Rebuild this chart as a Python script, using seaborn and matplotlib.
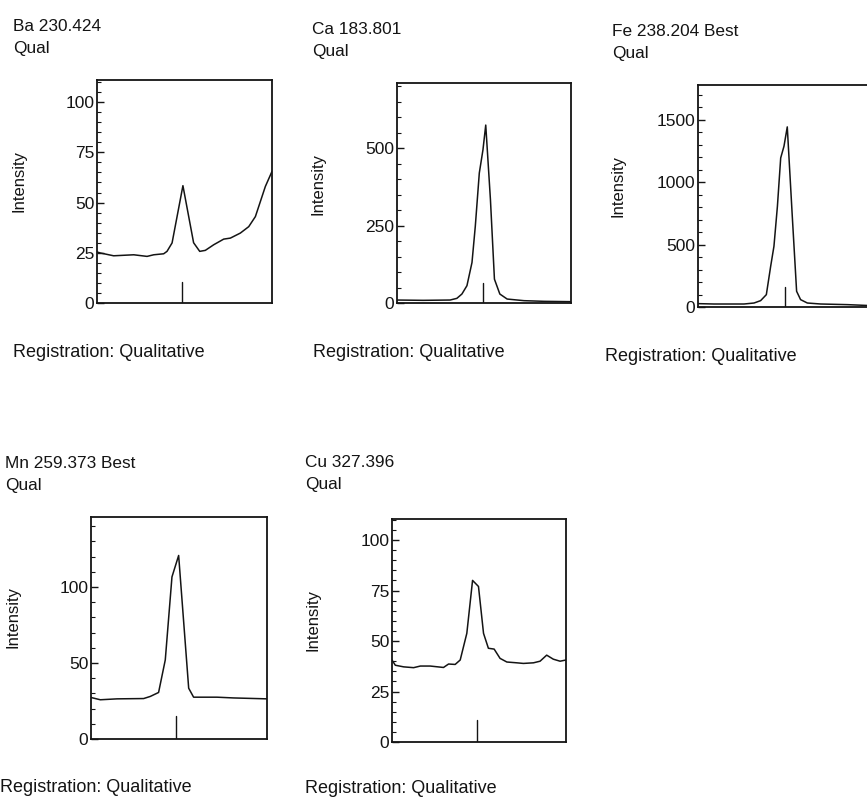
import matplotlib
matplotlib.use("Agg")
import matplotlib.pyplot as plt
from matplotlib.ticker import MultipleLocator
import seaborn as sns

# scan position is given in % of the scan window (x axis is unlabelled)
ba_x = [0, 1.9, 9.5, 21.0, 28.6, 32.4, 38.1, 40.0, 42.9, 49.1, 55.2, 58.7, 61.9,
        66.7, 72.4, 76.2, 81.9, 86.7, 90.5, 96.2, 100]
ba_y = [25.4, 24.9, 23.5, 24.0, 23.2, 24.0, 24.5, 25.7, 29.9, 58.4, 30.0, 25.7, 26.2,
        29.0, 31.8, 32.3, 34.8, 38.0, 43.0, 58.0, 65.5]

ca_x = [0, 15.1, 30.5, 34.4, 37.3, 40.2, 43.1, 45.0, 47.3, 49.4, 51.0, 53.7, 56.0,
        59.1, 63.3, 73.0, 84.6, 100]
ca_y = [9.6, 8.6, 9.6, 15, 29, 56, 131, 248, 420, 495, 575, 334, 77,
        29, 12.8, 7.5, 5.4, 4.3]

fe_x = [0, 9.2, 26.6, 32.4, 36.2, 39.5, 42.0, 43.9, 45.9, 47.8, 49.7, 51.6, 54.5,
        57.0, 59.3, 63.2, 70.9, 86.3, 100]
fe_y = [27, 24, 24, 32, 51, 99, 326, 487, 807, 1195, 1289, 1444, 727,
        126, 59, 32, 24, 19, 11]

mn_x = [0, 5.3, 14.8, 29.9, 33.7, 38.4, 42.2, 46.0, 49.8, 55.5, 58.3, 71.6, 81.1, 100]
mn_y = [27.3, 25.8, 26.4, 26.6, 28.0, 30.6, 52.0, 106.6, 120.7, 33.4, 27.5, 27.5, 27.0, 26.4]

cu_x = [0, 1.9, 6.7, 12.4, 16.3, 22.0, 29.6, 32.5, 36.3, 39.2, 43.0, 46.3, 49.7,
        52.6, 55.4, 58.7, 62.1, 66.0, 71.7, 75.5, 81.3, 85.1, 88.9, 92.7, 96.6, 100]
cu_y = [40.6, 38.0, 37.2, 36.8, 37.6, 37.6, 36.9, 38.6, 38.4, 40.6, 53.8, 80.0, 77.0,
        53.8, 46.4, 46.0, 41.4, 39.6, 39.2, 38.9, 39.2, 40.0, 43.0, 41.0, 40.0, 40.6]

# line position marker for each element
ba_line, ca_line, fe_line, mn_line, cu_line = 48.6, 49.4, 50.3, 48.3, 48.8

titles = ["Ba 230.424", "Ca 183.801", "Fe 238.204 Best", "Mn 259.373 Best", "Cu 327.396"]

sns.set_theme(style="ticks")
plt.rcParams['font.family'] = ['Liberation Sans', 'DejaVu Sans']

W, H = 867, 798
fig = plt.figure(figsize=(W / 100, H / 100), dpi=100)
ink = '#141414'


def fx(px):
    return px / W


def fy(py):
    return 1 - py / H


# title, x, y, marker, ylim top, major, minor, marker height,
# axes box (L, T, R, B), title (x, baseline), registration (x, baseline), ylabel centre
panels = [
    (titles[0], ba_x, ba_y, ba_line, 111, 25, 5, 0.093, (97, 80, 272, 303), (13, 31), (13, 357), (19, 181)),
    (titles[1], ca_x, ca_y, ca_line, 711, 250, 50, 0.089, (397, 83, 571, 303), (312, 34), (313, 357), (318, 184)),
    (titles[2], fe_x, fe_y, fe_line, 1780, 500, 100, 0.09, (698, 85, 871, 307), (612, 36), (605, 361), (618, 186)),
    (titles[3], mn_x, mn_y, mn_line, 146, 50, 10, 0.102, (91, 517, 267, 739), (5, 468), (0, 792), (13, 617)),
    (titles[4], cu_x, cu_y, cu_line, 110.4, 25, 5, 0.097, (392, 519, 566, 742), (305, 467), (305, 793), (313, 620)),
]

for title, xs, ys, mark, ytop, major, minor, mh, box, tpos, rpos, lpos in panels:
    L, T, R, B = box
    ax = fig.add_axes([fx(L), fy(B), (R - L) / W, (B - T) / H])
    sns.lineplot(x=xs, y=ys, ax=ax, color=ink, lw=1.1)
    ax.axvline(mark, ymin=0, ymax=mh, color=ink, lw=1.0)
    ax.set_xlim(0, 100)
    ax.set_ylim(0, ytop)
    ax.set_xticks([])
    ax.set_xlabel('')
    ax.yaxis.set_major_locator(MultipleLocator(major))
    ax.yaxis.set_minor_locator(MultipleLocator(minor))
    ax.tick_params(axis='y', which='both', direction='in', labelsize=12.5, pad=2, colors=ink)
    ax.tick_params(axis='y', which='major', length=5, width=1.0)
    ax.tick_params(axis='y', which='minor', length=3, width=0.8)
    for s in ax.spines.values():
        s.set_visible(True)
        s.set_linewidth(1.3)
        s.set_color(ink)
    ax.set_ylabel('Intensity', fontsize=12, color=ink, va='center')
    ax.yaxis.set_label_coords((lpos[0] - L) / (R - L), (B - lpos[1]) / (B - T))

    fig.text(fx(tpos[0]), fy(tpos[1]), title, fontsize=12.4, color=ink, va='baseline')
    fig.text(fx(tpos[0]), fy(tpos[1] + 22), 'Qual', fontsize=12.4, color=ink, va='baseline')
    fig.text(fx(rpos[0]), fy(rpos[1]), 'Registration: Qualitative', fontsize=13,
             color=ink, va='baseline')

fig.savefig('out.png', dpi=100)
